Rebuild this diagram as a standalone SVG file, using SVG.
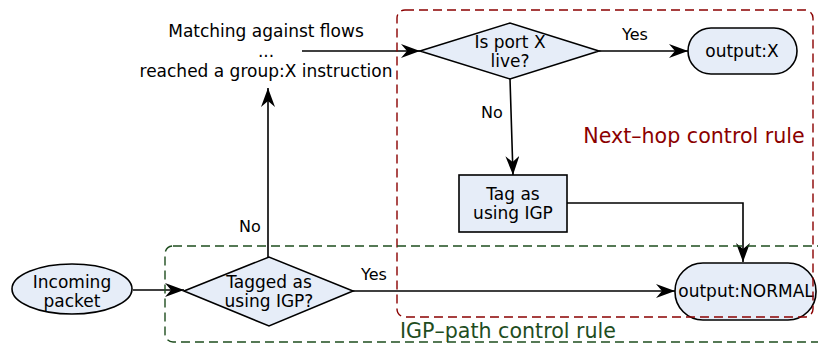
<svg xmlns="http://www.w3.org/2000/svg" width="818" height="347" viewBox="0 0 818 347">
<defs>
<marker id="arr" markerUnits="userSpaceOnUse" markerWidth="20" markerHeight="14" refX="19" refY="7" orient="auto">
<path d="M0,0 L19,7 L0,14 L6,7 z" fill="#000"/>
</marker>
<style>
.n{fill:#e6edf8;stroke:#000;stroke-width:1.6}
.t{font-family:"DejaVu Sans",Verdana,sans-serif;font-size:17px;fill:#000;text-anchor:middle}
.l{font-family:"DejaVu Sans",Verdana,sans-serif;font-size:16px;fill:#000;text-anchor:middle}
.e{fill:none;stroke:#000;stroke-width:1.6;marker-end:url(#arr)}
.red{fill:none;stroke:#8b0000;stroke-width:1.4;stroke-dasharray:9,5}
.grn{fill:none;stroke:#1e4d1e;stroke-width:1.4;stroke-dasharray:9,5}
</style>
</defs>
<rect width="818" height="347" fill="#fff"/>
<g id="edges">
<path class="e" d="M133,290 L184,290"/>
<path class="e" d="M268,257 L268,88"/>
<path class="e" d="M302,51 L420,51"/>
<path class="e" d="M599,51 L688,51"/>
<path class="e" d="M510,79 L513,175"/>
<path class="e" d="M567,203 L743,203 L743,262"/>
<path class="e" d="M353,291 L675,291"/>
<text class="l" x="250" y="232">No</text>
<text class="l" x="635" y="40">Yes</text>
<text class="l" x="492" y="118">No</text>
<text class="l" x="374" y="280">Yes</text>
</g>
<g id="incoming">
<ellipse class="n" cx="72" cy="289" rx="60" ry="25"/>
<text class="t" x="72" y="288">Incoming</text>
<text class="t" x="72" y="307">packet</text>
</g>
<g id="tagged">
<polygon class="n" points="184,291 269,257 353,291 269,326"/>
<text class="t" x="269" y="288">Tagged as</text>
<text class="t" x="269" y="307">using IGP?</text>
</g>
<g id="matching">
<text class="t" x="266" y="37">Matching against flows</text>
<text class="t" x="266" y="57">...</text>
<text class="t" x="266" y="77">reached a group:X instruction</text>
</g>
<g id="portlive">
<polygon class="n" points="420,51 510,23 599,51 510,79"/>
<text class="t" x="510" y="48">Is port X</text>
<text class="t" x="510" y="67">live?</text>
</g>
<g id="outputx">
<rect class="n" x="688" y="28" width="109" height="46" rx="23"/>
<text class="t" x="742" y="57">output:X</text>
</g>
<g id="tag">
<rect class="n" x="459" y="175" width="108" height="57"/>
<text class="t" x="513" y="200">Tag as</text>
<text class="t" x="513" y="219">using IGP</text>
</g>
<g id="normal">
<rect class="n" x="675" y="263" width="141" height="57" rx="28"/>
<text class="t" x="746" y="297">output:NORMAL</text>
</g>
<g id="nexthop">
<rect class="red" x="397" y="10" width="416" height="307" rx="8"/>
<text x="694" y="143" font-family="DejaVu Sans, Verdana, sans-serif" font-size="20.6" fill="#8b0000" text-anchor="middle">Next–hop control rule</text>
</g>
<g id="igppath">
<rect class="grn" x="165" y="246" width="665" height="96" rx="8"/>
<text x="400" y="338" font-family="DejaVu Sans, Verdana, sans-serif" font-size="20.6" fill="#1e4d1e">IGP–path control rule</text>
</g>
</svg>
